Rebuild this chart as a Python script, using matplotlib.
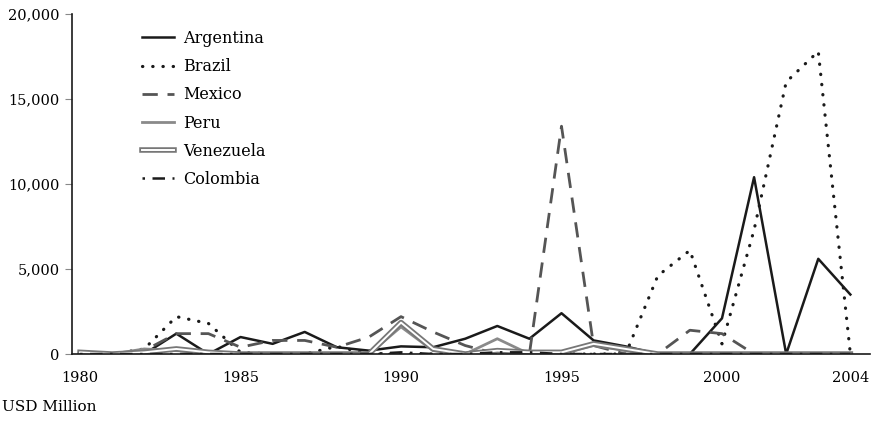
import matplotlib.pyplot as plt
import matplotlib.patheffects as pe
from matplotlib.ticker import FuncFormatter

plt.rcParams['font.family'] = ['DejaVu Serif']

years = list(range(1980, 2005))

# USD million
argentina = [0, 0, 0, 1200, 0, 1000, 600, 1300, 400, 200, 450, 400, 900, 1650, 900,
             2400, 800, 450, 0, 0, 2100, 10400, 0, 5600, 3500]
brazil = [0, 0, 300, 2200, 1800, 100, 0, 0, 450, 0, 0, 0, 100, 0, 0,
          0, 0, 0, 4600, 6100, 600, 7300, 16000, 17800, 0]
mexico = [0, 0, 200, 1200, 1200, 400, 800, 800, 400, 1000, 2200, 1300, 500, 0, 0,
          13400, 500, 0, 0, 1400, 1200, 0, 0, 0, 0]
peru = [150, 0, 300, 200, 100, 0, 0, 0, 0, 0, 1600, 200, 0, 900, 0,
        0, 500, 200, 0, 0, 0, 0, 0, 0, 0]
venezuela = [100, 0, 100, 300, 100, 0, 0, 0, 0, 0, 1850, 300, 0, 200, 100,
             100, 600, 300, 0, 0, 0, 0, 0, 0, 0]
colombia = [0, 0, 0, 0, 0, 0, 0, 0, 0, 0, 100, 0, 0, 100, 100,
            0, 0, 0, 0, 0, 0, 0, 0, 0, 0]

xticks = [1980, 1985, 1990, 1995, 2000, 2004]

fig = plt.figure(figsize=(8.74, 4.24), dpi=100)
ax = fig.add_axes([0.0824, 0.165, 0.9126, 0.802])

ax.plot(years, argentina, color='#1a1a1a', lw=1.8, label='Argentina')
ax.plot(years, brazil, color='#1a1a1a', lw=2.3, linestyle=(0, (0.1, 3.1)),
        dash_capstyle='round', label='Brazil')
ax.plot(years, mexico, color='#555555', lw=2.0, linestyle=(0, (5.5, 3.5)), label='Mexico')
ax.plot(years, peru, color='#8a8a8a', lw=2.0, label='Peru')
ax.plot(years, venezuela, color='white', lw=1.4, label='Venezuela',
        path_effects=[pe.Stroke(linewidth=4.0, foreground='#777777'), pe.Normal()])
ax.plot(years, colombia, color='#1a1a1a', lw=1.8, linestyle=(0, (1, 3, 5, 3)),
        label='Colombia')

ax.set_xlim(1979.75, 2004.6)
ax.set_ylim(0, 20000)
ax.set_xticks(xticks)
ax.set_yticks([0, 5000, 10000, 15000, 20000])
ax.yaxis.set_major_formatter(FuncFormatter(lambda v, p: f'{int(v):,}'))

for s in ['top', 'right']:
    ax.spines[s].set_visible(False)
ax.spines['left'].set_color('#1a1a1a')
ax.spines['bottom'].set_color('#1a1a1a')
ax.spines['left'].set_linewidth(1.2)
ax.spines['bottom'].set_linewidth(1.2)
ax.tick_params(axis='y', length=5, color='#888888', labelsize=10.5, pad=4)
ax.tick_params(axis='x', length=0, labelsize=10.5, pad=12)

ax.legend(loc='upper left', bbox_to_anchor=(0.07, 0.995), frameon=False,
          fontsize=11.5, handlelength=2.0, handletextpad=0.55, labelspacing=0.7)

fig.text(0.002, 0.04, 'USD Million', fontsize=11, ha='left', va='center')

fig.savefig('out.png', dpi=100)
